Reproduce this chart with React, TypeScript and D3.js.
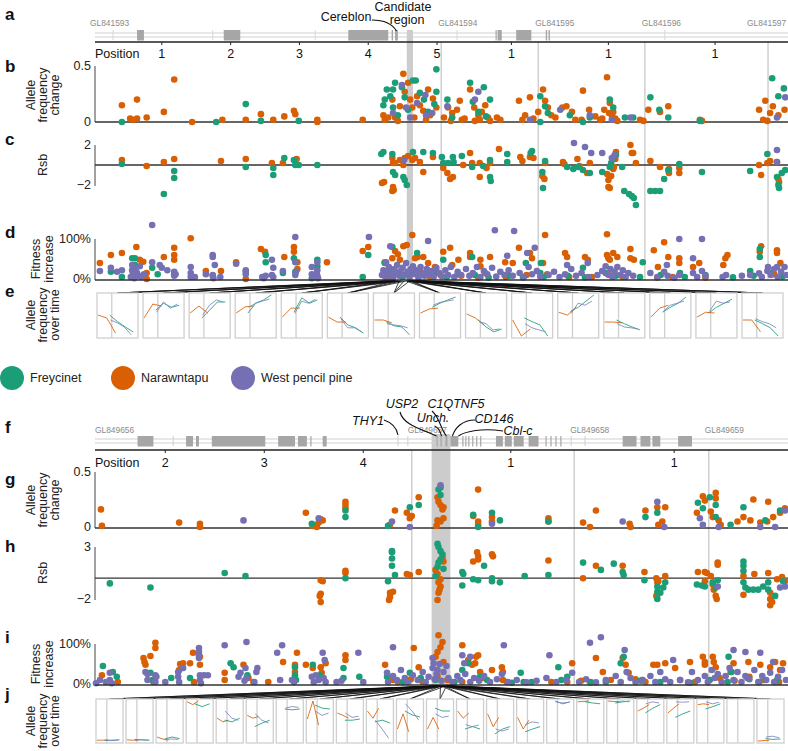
import React from "react";
import * as d3 from "d3";

const GREEN = "#1b9e77";
const ORANGE = "#d95f02";
const PURPLE = "#7570b3";
const FONT = "'Liberation Sans', Arial, Helvetica, sans-serif";

// ---------------- TOP (a-e) ----------------
const topContigNames = ["GL841593", "GL841594", "GL841595", "GL841596", "GL841597"];
const topContigStarts = [0, 5.06, 6.47, 8.02, 9.81];
const topTickPos = [1, 2, 3, 4, 5, 6.08, 7.49, 9.04];
const topTickLabels = ["1", "2", "3", "4", "5", "1", "1", "1"];
const topGenes = [[0.64, 0.74], [1.9, 2.14], [3.71, 4.29], [4.34, 4.36], [4.39, 4.43], [5.85, 5.86], [5.88, 5.94], [6.15, 6.37], [6.58, 6.6], [6.62, 6.64]];
const topFaintMarks = [0.29, 1.74, 3.23, 5.29, 8.31];
const candidateRegion = [4.56, 4.65];

const topAfcFreycinet = [[0.42,0],[1.79,0],[2.22,0.16],[2.44,0.01],[2.99,0.01],[4.22,0.15],[4.24,0.2],[4.27,0.29],[4.32,0.23],[4.36,0.29],[4.39,0.35],[4.36,0.13],[4.43,0.06],[4.49,0.31],[4.53,0.22],[4.58,0.11],[4.65,0.37],[4.69,0.37],[4.75,0.26],[4.81,0.2],[4.87,0.09],[4.99,0.47],[4.99,0.27],[4.96,0.16],[5.15,0.2],[5.22,0.04],[5.48,0.35],[5.52,0.18],[5.6,0.09],[5.68,0.31],[5.77,0.2],[5.71,0.05],[6.5,0.23],[6.57,0.14],[6.61,0.08],[6.5,0],[6.93,0.06],[7.12,0],[7.22,0.04],[7.51,0.2],[7.56,0.13],[7.73,0.04],[7.85,0.04],[8.1,0.22],[8.23,0.11],[8.36,0.04],[8.82,0.01],[9.87,0.39],[9.96,0.23],[10.04,0.3]];
const topAfcNarawntapu = [[0.42,0.15],[0.64,0.2],[0.54,0.03],[0.58,0.02],[0.64,0.03],[0.78,0.04],[1.03,0.09],[1.18,0.38],[1.44,0],[1.88,0.02],[2.22,0.02],[2.44,0.07],[2.62,0.02],[2.78,0.05],[2.92,0.1],[2.94,0.07],[3.26,0.02],[3.26,0],[3.92,0.02],[4.22,0.06],[4.24,0.02],[4.29,0.04],[4.35,0.2],[4.39,0.04],[4.43,0.01],[4.46,0.14],[4.51,0.43],[4.53,0.27],[4.58,0.35],[4.61,0.2],[4.64,0.13],[4.67,0.04],[4.71,0.23],[4.75,0.15],[4.8,0.1],[4.84,0.02],[4.87,0.29],[4.9,0.06],[4.94,0.21],[4.99,0.13],[5.1,0.04],[5.16,0.13],[5.22,0.08],[5.29,0.11],[5.33,0.19],[5.36,0.02],[5.48,0.29],[5.54,0.13],[5.6,0.06],[5.65,0.09],[5.7,0.15],[5.74,0.04],[5.77,0.01],[5.87,0.04],[5.92,0.02],[6.19,0.19],[6.24,0.02],[6.35,0.22],[6.47,0.09],[6.54,0.29],[6.57,0.19],[6.61,0.13],[6.72,0.04],[6.82,0.13],[6.88,0.14],[6.96,0.09],[7.01,0.02],[7.12,0.28],[7.21,0.11],[7.37,0.02],[7.43,0.11],[7.47,0.4],[7.51,0.17],[7.54,0.06],[7.59,0.03],[8.07,0.11],[8.24,0.09],[8.36,0.14],[8.82,0.02],[9.68,0.11],[9.77,0.19],[9.84,0.08],[9.88,0.14],[9.96,0.06],[5.2,0.01],[5.4,0.03],[5.55,0.01],[5.62,0.02],[6.28,0.06],[6.4,0.03],[6.66,0.06],[7.3,0.05],[7.4,0.03],[7.5,0.08],[7.56,0.09],[7.62,0.01],[7.1,0.02],[7.95,0.02],[8.0,0.01],[8.85,0.01],[9.74,0.02],[9.8,0.01],[10.05,0.11]];
const topAfcWestPencilPine = [[4.36,0.08],[4.49,0.33],[4.55,0.13],[4.61,0.04],[4.71,0.17],[4.83,0.24],[4.93,0.08],[4.84,0.06],[5.15,0.14],[5.55,0.2],[5.6,0.27],[6.35,0.02],[6.79,0.11],[7.22,0.06],[7.54,0.02],[7.81,0.04],[9.94,0.04],[10.06,0.22]];

const topRsbFreycinet = [[0.42,0.1],[1.18,-0.6],[1.18,-1.3],[1.03,-2.9],[2.22,-0.2],[2.62,-0.3],[2.62,-1],[2.78,0.7],[2.92,0.5],[2.94,0],[2.99,0],[3.26,0],[4.19,1.1],[4.22,1.3],[4.35,1.1],[4.36,-0.7],[4.39,-1],[4.51,-1.2],[4.53,-1.5],[4.56,-2],[4.65,1.3],[4.8,1.3],[4.94,1.2],[5.07,0.8],[5.09,0.2],[5.16,0.2],[5.23,0.8],[5.24,0.3],[5.36,0.9],[5.51,-0.2],[5.67,-0.1],[5.77,0.5],[5.77,-1.2],[5.78,-1.6],[6.02,1.1],[6.02,0.3],[6.38,1.4],[6.36,1.2],[6.57,0.4],[6.53,-0.7],[6.54,-2.3],[6.89,-0.2],[6.98,-0.4],[7.05,-0.2],[7.12,-0.5],[7.22,-0.8],[7.4,-0.7],[7.51,-0.2],[7.53,0.2],[7.56,0.7],[7.6,1.0],[7.69,-0.2],[7.72,-2.6],[7.79,-2.9],[7.83,-3.1],[7.86,-3.3],[7.89,-4],[8.1,-2.6],[8.17,-2.6],[8.24,-2.6],[8.3,-1.4],[8.36,-0.5],[8.52,0.1],[8.85,-0.7],[9.55,-0.6],[9.8,1.1],[9.94,-1.2],[9.96,-2],[9.97,-2.3],[10.01,-0.8],[10.06,-0.5]];
const topRsbNarawntapu = [[0.42,0.5],[0.78,-0.1],[1.03,0.3],[1.18,0.6],[1.86,0.4],[2.22,0.6],[2.6,0.2],[2.76,0.2],[2.96,0.6],[4.23,-1.7],[4.2,-1.8],[4.36,-2.2],[4.37,-2.5],[4.36,0.2],[4.35,0.7],[4.39,0.2],[4.46,0.5],[4.51,0],[4.53,0.7],[4.58,0.9],[4.64,0.5],[4.68,0.7],[4.75,0.3],[4.35,-2.6],[4.8,-0.7],[4.94,0.8],[5.09,-0.3],[5.15,-0.8],[5.19,-1.4],[5.23,-1.2],[5.48,1.2],[5.38,0],[5.51,0.2],[5.62,0.2],[5.62,-1.2],[5.72,-0.3],[5.77,0.2],[5.9,1.6],[6.21,0.8],[6.24,0.4],[6.35,0.8],[6.4,0.7],[6.53,-1.1],[6.56,-1.4],[6.57,0.2],[6.83,0.3],[6.85,0.1],[7.04,0.6],[7.07,-0.1],[7.18,-0.8],[7.22,0.2],[7.47,-0.9],[7.49,-1.5],[7.49,-2.2],[7.51,-2.3],[7.53,-1.1],[7.56,-0.4],[7.57,-0.2],[7.59,0.6],[7.6,1.3],[7.81,2],[7.83,1.2],[7.85,1.2],[7.89,0.2],[8.1,0.4],[8.24,-0.2],[8.37,-0.4],[8.37,-0.8],[8.52,-0.3],[8.52,-0.8],[9.68,0],[9.71,-1],[9.8,0.2],[9.84,0.4],[9.94,0.3],[9.96,-1.4],[9.97,-1.7]];
const topRsbWestPencilPine = [[6.99,2.2],[7.15,1.8],[7.24,1.2],[7.4,1.2],[7.54,0.7],[7.58,1.0],[9.94,1.5],[9.94,0.3],[4.52,0.5]];

const topFitFreycinet = [[0.26,0.18],[0.42,0.05],[0.57,0.52],[0.61,0.52],[0.61,0.35],[0.86,0.28],[0.94,0.12],[1.18,0.12],[1.74,0.08],[2.22,0.18],[2.51,0.6],[2.51,0.42],[2.76,0.15],[2.92,0.52],[2.94,0.18],[3.26,0.48],[3.26,0.32],[3.18,0.02],[3.92,0.05],[4.0,0.6],[4.24,0.4],[4.27,0.18],[4.35,0.8],[4.71,0.65],[5.09,0.48],[5.51,0.55],[6.29,0.4],[6.51,0.4],[7.12,0.28],[7.99,0.42],[8.53,0.15],[8.9,0.1],[9.55,0.2],[9.69,0.75],[9.69,0.55],[4.33,0.15],[4.5,0.05],[4.63,0.2],[4.8,0.1],[4.98,0.15],[5.14,0.05],[5.3,0.12],[5.55,0.1],[5.75,0.03],[6.05,0.08],[6.25,0.04],[6.5,0.15],[6.55,0.05],[6.9,0.08],[7.15,0.04],[7.45,0.15],[7.6,0.08],[7.95,0.05],[8.25,0.1],[8.6,0.05],[9.3,0.04],[9.6,0.08],[9.85,0.15],[10.02,0.06]];
const topFitNarawntapu = [[0.1,0.4],[0.26,0.6],[0.42,0.65],[0.63,0.8],[0.68,0.48],[0.73,0.43],[0.78,0.15],[0.57,0.22],[0.78,0],[1.03,0.55],[1.18,0.78],[1.18,0.6],[1.18,0.48],[1.42,1.02],[1.64,0.2],[1.86,0.2],[2.08,0.42],[2.22,0],[2.44,0.75],[2.5,0.68],[2.78,0.55],[2.92,0.8],[2.92,0.68],[2.97,0.42],[2.97,0.25],[3.4,0.42],[3.92,0.7],[4.0,0.8],[4.24,0.42],[4.35,0.52],[4.39,0.7],[4.43,0.62],[4.64,1.1],[4.51,0.82],[4.56,0.85],[4.46,0.48],[4.68,0.52],[4.72,0.55],[4.8,0.55],[4.87,0.4],[4.97,0.3],[5.09,0.68],[5.19,0.78],[5.22,0.35],[5.31,0.48],[5.48,0.65],[5.48,0.55],[5.63,0.48],[5.63,0.32],[5.77,0.55],[5.99,0.42],[6.1,0.4],[6.19,0.78],[6.35,0.65],[6.38,0.52],[6.57,1.1],[6.54,0.4],[6.86,0.65],[6.89,0.55],[7.15,0.55],[7.19,0.48],[7.47,1.12],[7.47,0.6],[7.49,0.52],[7.51,0.48],[7.56,0.65],[7.62,0.55],[7.81,0.75],[7.81,0.52],[7.86,0.48],[8.15,0.72],[8.21,0.3],[8.3,0.92],[8.36,0.55],[8.52,0.52],[8.52,0.4],[8.72,0.3],[8.81,0.4],[9.16,0.35],[9.19,0.52],[9.22,0.6],[9.71,0.82],[9.69,0.68],[9.94,0.72],[9.94,0.65],[9.99,0.4],[4.3,0.05],[4.45,0.12],[4.6,0.08],[4.75,0.18],[4.9,0.05],[5.05,0.1],[5.35,0.08],[5.6,0.03],[5.7,0.15],[6.0,0.05],[6.3,0.1],[6.6,0.12],[6.92,0.05],[7.25,0.05],[7.5,0.1],[7.7,0.05],[8.2,0.03],[8.42,0.05],[8.9,0.03],[9.9,0.12]];
const topFitWestPencilPine = [[0.1,0.2],[0.26,0.28],[0.35,0.18],[0.42,0.22],[0.57,0.22],[0.57,0.35],[0.59,0.08],[0.64,0.15],[0.68,0.32],[0.74,0.12],[0.86,1.35],[0.86,0.42],[0.97,0.35],[1.0,0.28],[1.08,0.22],[1.18,0.18],[1.18,0.08],[1.42,0.3],[1.42,0.15],[1.48,0.05],[1.64,0.12],[1.74,0.6],[1.74,0.55],[1.77,0.35],[1.85,0.05],[2.08,0.38],[2.22,0.12],[2.22,0.22],[2.46,0.05],[2.51,0.08],[2.6,0.48],[2.62,0.28],[2.6,0.1],[2.76,0.2],[2.94,1.05],[2.94,0.42],[2.94,0.1],[3.18,0.3],[3.18,0.12],[3.26,0.42],[3.26,0.22],[3.26,0.08],[4.01,1.05],[4.22,0.22],[4.26,0.42],[4.32,0.82],[4.32,0.22],[0.55,0.05],[0.58,0.12],[0.6,0.02],[0.62,0.25],[0.66,0.08],[0.7,0.05],[1.2,0.12],[1.42,0.05],[1.74,0.1],[1.75,0.02],[2.48,0.02],[2.62,0.05],[2.95,0.18],[3.2,0.05],[3.25,0.15],[3.27,0.02],[4.87,0.95],[5.84,1.22],[6.12,1.2],[6.42,0.78],[6.02,0.58],[6.31,0.65],[6.89,0.35],[7.19,0.4],[8.52,1.0],[8.85,1.0],[8.72,0.52],[9.43,0.08],[9.94,0.3],[9.81,0.3],[8.1,0.15],[8.34,0.35],[4.2,0.1],[4.25,0.05],[4.28,0.2],[4.3,0.3],[4.33,0.12],[4.36,0.03],[4.38,0.25],[4.4,0.15],[4.42,0.35],[4.45,0.08],[4.47,0.2],[4.5,0.28],[4.52,0.1],[4.55,0.4],[4.57,0.18],[4.6,0.05],[4.62,0.25],[4.65,0.32],[4.68,0.12],[4.7,0.22],[4.73,0.04],[4.76,0.3],[4.79,0.15],[4.82,0.08],[4.85,0.25],[4.88,0.12],[4.92,0.2],[4.95,0.05],[4.99,0.28],[5.03,0.15],[5.07,0.07],[5.12,0.22],[5.16,0.1],[5.2,0.3],[5.25,0.05],[5.3,0.18],[5.35,0.1],[5.42,0.25],[5.47,0.08],[5.52,0.15],[5.58,0.3],[5.63,0.05],[5.68,0.2],[5.73,0.12],[5.8,0.28],[5.86,0.06],[5.92,0.18],[5.98,0.1],[6.04,0.22],[6.1,0.08],[6.2,0.15],[6.26,0.05],[6.33,0.3],[6.38,0.12],[6.45,0.2],[6.5,0.06],[6.62,0.1],[6.7,0.18],[6.78,0.05],[6.86,0.12],[6.95,0.25],[7.02,0.08],[7.1,0.15],[7.2,0.05],[7.33,0.1],[7.4,0.2],[7.45,0.32],[7.48,0.12],[7.52,0.25],[7.55,0.05],[7.58,0.18],[7.62,0.3],[7.66,0.1],[7.7,0.22],[7.74,0.05],[7.78,0.15],[7.85,0.08],[8.2,0.05],[8.3,0.18],[8.35,0.08],[8.45,0.03],[8.52,0.1],[8.72,0.15],[8.78,0.05],[8.85,0.2],[8.9,0.08],[9.15,0.05],[9.2,0.1],[9.55,0.1],[9.68,0.14],[9.72,0.05],[9.8,0.2],[9.85,0.1],[9.9,0.25],[9.95,0.05],[10.0,0.18],[10.05,0.3],[10.08,0.1]];

const topFanSnps = [[4.22,4.3,4.38],[4.25,4.33,4.4],[4.28,4.36,4.44],[4.3,4.4,4.47],[4.34,4.43,4.5],[4.38,4.47,4.55],[4.45,4.52,4.6],[4.55,4.6,4.63],[4.57,4.62,4.66],[4.56,4.63,4.7],[4.58,4.64,4.72],[4.6,4.66,4.74],[4.6,4.68,4.76],[4.62,4.7,4.78],[4.63,4.72,4.8]];
const topMiniNarawntapu = [[0.51,0.44,0.07],[0.44,0.78,0.73],[0.56,0.73,0.56],[0.56,0.71,0.73],[0.46,0.68,0.68],[0.46,0.34,0.34],[0.39,0.39,0.32],[0.56,0.66,0.68],[0.54,0.44,0.27],[0.39,0.0,0.17],[0.58,0.51,0.71],[0.34,0.34,0.32],[0.46,0.68,0.75],[0.46,0.58,0.56],[0.39,0.39,0.1]];
const topMiniFreycinet = [[0.51,0.35,0.22,0.1],[0.63,0.8,0.7,0.75],[0.44,0.63,0.83,0.83],[0.56,0.8,0.88,1.0],[0.58,0.93,0.8,0.88],[0.46,0.27,0.2,0.07],[0.35,0.25,0.22,0.03],[0.7,0.8,0.88,0.95],[0.39,0.22,0.1,0.17],[0.44,0.35,0.27,0.0],[0.6,0.7,0.85,1.0],[0.39,0.3,0.22,0.15],[0.58,0.7,0.8,0.95],[0.56,0.7,0.8,0.9],[0.39,0.3,0.2,0.0]];
const topMiniWestPencilPine = [[0.39,0.32,0.22,0.03],[0.58,0.83,0.68,0.78],[0.51,0.75,0.88,0.83],[0.7,0.8,0.85,0.9],[0.55,0.85,0.8,0.9],[0.42,0.2,0.2,0.1],[0.3,0.27,0.25,0.2],[0.75,0.82,0.85,0.88],[0.35,0.3,0.15,0.17],[0.3,0.2,0.15,0.1],[0.55,0.8,0.75,0.85],[0.3,0.22,0.2,0.17],[0.6,0.75,0.8,0.85],[0.6,0.85,0.8,0.83],[0.42,0.35,0.3,0.2]];

// ---------------- BOTTOM (f-j) ----------------
const botContigNames = ["GL849656", "GL849657", "GL849658", "GL849659"];
const botContigStarts = [1.29, 4.49, 6.13, 7.49];
const botTickPos = [2, 3, 4, 5.49, 7.14];
const botTickLabels = ["2", "3", "4", "1", "1"];
const botGenes = [[1.72,1.88],[2.21,2.28],[2.31,2.34],[2.47,3.01],[3.14,3.31],[3.34,3.43],[3.465,3.475],[3.59,3.63],[4.74,4.75],[4.78,4.79],[4.83,4.85],[4.88,4.96],[5.0,5.01],[5.03,5.04],[5.06,5.07],[5.1,5.11],[5.14,5.15],[5.18,5.19],[5.34,5.41],[5.43,5.5],[5.52,5.62],[5.67,5.77],[5.84,5.85],[5.89,5.9],[5.94,5.95],[5.99,6.0],[6.62,6.76],[6.8,6.9],[6.92,7.0],[7.18,7.32]];
const botFaintMarks = [2.08, 4.35, 4.45, 6.1, 6.24];
const botRegion = [4.69, 4.88];

const botAfcFreycinet = [[3.48,0.03],[3.82,0.15],[3.82,0.09],[4.25,0.01],[4.47,0.18],[4.56,0.2],[4.76,0.34],[4.78,0.36],[4.78,0.29],[5.11,0.11],[5.16,0],[5.3,0.13],[5.38,0.06],[5.87,0.05],[6.85,0.09],[6.97,0.13],[7.38,0.22],[7.43,0.17],[7.5,0.27],[7.56,0.2],[7.56,0.09],[7.84,0.18],[8.21,0.15],[8.06,0.06],[7.71,0.02]];
const botAfcNarawntapu = [[1.35,0.16],[1.36,0.01],[2.14,0.04],[2.35,0.03],[2.35,0],[3.42,0.13],[3.49,0.01],[3.53,0.02],[3.55,0.04],[3.57,0.07],[3.59,0.06],[3.53,0],[3.82,0.23],[3.82,0.2],[3.82,0.17],[4.32,0.15],[4.27,0.02],[4.44,0.13],[4.47,0.08],[4.49,0.1],[4.56,0.27],[4.75,0.27],[4.76,0.23],[4.78,0.2],[4.81,0.18],[4.8,0.16],[4.75,0.06],[4.78,0.05],[4.81,0.08],[4.74,0.01],[5.16,0.34],[5.11,0.1],[5.16,0.05],[5.16,0.02],[5.3,0.09],[5.3,0.05],[5.87,0.08],[5.87,0.05],[6.35,0.15],[6.22,0.04],[6.29,0],[6.69,0.03],[6.7,0],[6.85,0.15],[6.97,0.18],[7.05,0.18],[6.98,0.02],[7.02,0.05],[7.37,0.13],[7.43,0.28],[7.45,0.24],[7.56,0.31],[7.56,0.26],[7.51,0.14],[7.53,0.09],[7.59,0.06],[7.61,0.02],[7.78,0.05],[7.94,0.25],[7.84,0.09],[8.09,0.23],[8.08,0.05],[8.14,0.09],[8.21,0.13],[8.26,0.17],[7.91,0.06],[8.01,0.04]];
const botAfcWestPencilPine = [[2.79,0.06],[3.55,0.08],[4.29,0.05],[4.47,0],[4.78,0.38],[5.3,0.03],[6.62,0.05],[6.97,0.23],[7.04,0],[7.4,0.08],[7.43,0.02],[7.59,0],[8.01,0],[8.26,0.15],[8.16,0]];

const botRsbFreycinet = [[1.44,-0.5],[1.85,-0.9],[2.6,0.5],[2.81,0.2],[3.82,0],[4.25,-0.3],[4.29,2.6],[4.29,2.5],[4.29,1.9],[4.29,1.2],[4.32,0.3],[4.75,3.3],[4.76,3.0],[4.78,2.6],[4.8,2.3],[4.78,1.8],[4.76,1.5],[4.75,1.1],[4.81,0.9],[4.73,0.2],[5.0,0.6],[5.01,0.4],[5.0,-0.7],[5.11,-0.1],[5.16,-0.2],[5.22,1.2],[5.3,0],[5.3,-0.3],[5.38,-0.4],[5.63,0.2],[5.87,0.3],[6.22,1.5],[6.4,0.8],[6.53,1.4],[6.62,0.6],[6.63,0.3],[6.84,-0.2],[6.97,-0.8],[6.97,-1.3],[6.97,-2],[7.0,-1.4],[7.03,-0.9],[7.05,-0.4],[7.37,-0.6],[7.42,-0.7],[7.45,-0.8],[7.53,-0.4],[7.56,-0.9],[7.58,-0.2],[7.84,1.6],[7.84,1.2],[7.84,0.7],[7.84,-0.4],[7.86,-0.9],[7.89,-1.1],[7.94,-1.1],[7.99,-1.1],[8.04,-0.8],[8.09,-0.4],[8.09,-1.1],[8.16,-1.7],[8.24,-0.3]];
const botRsbNarawntapu = [[3.57,-0.2],[3.59,-0.3],[3.57,-1.5],[3.56,-1.7],[3.57,-2.3],[3.82,0.7],[3.82,0.5],[4.27,-1.4],[4.27,-1.8],[4.26,-2.1],[4.3,-1.3],[4.44,0.4],[4.47,0.3],[4.56,0.6],[4.73,0.8],[4.75,0.4],[4.78,-0.1],[4.76,-0.4],[4.78,-0.8],[4.77,-1.1],[4.76,-1.4],[4.75,-2.1],[4.8,2.0],[4.81,1.6],[5.11,1.6],[5.15,2.5],[5.16,2.1],[5.16,1.8],[5.3,2.3],[5.31,2.1],[5.87,1.7],[6.22,0],[6.35,1.2],[6.62,1.2],[6.84,0.6],[6.96,0],[6.97,-0.4],[6.98,-0.3],[6.97,-1.6],[6.96,-1.7],[7.05,0.2],[7.38,0.6],[7.45,0.6],[7.47,0.5],[7.51,0.2],[7.45,-0.3],[7.53,-0.6],[7.54,-1.1],[7.56,-1.7],[7.57,-2.0],[7.58,1.5],[7.58,1.3],[7.84,0.2],[7.84,-1.6],[7.95,0.4],[8.09,0.5],[8.11,-1.4],[8.11,-2.0],[8.11,-2.6],[8.13,-2.3],[8.18,-0.1],[8.23,0.1],[8.26,-0.3]];
const botRsbWestPencilPine = [[7.58,-0.8],[8.21,-0.9],[8.26,-0.8]];

const botFitFreycinet = [[1.37,0.45],[1.47,0.3],[1.51,0.18],[1.85,0.28],[1.87,0.1],[2.06,0.15],[2.25,0.15],[2.66,0.52],[2.69,0.42],[2.83,0.22],[3.31,0.42],[3.31,0.22],[3.32,0.1],[3.49,0.48],[3.56,0.22],[3.8,0.4],[3.8,0.15],[3.96,0.18],[4.24,0.18],[4.47,0.28],[5.0,0.35],[5.06,0.52],[5.18,0.18],[5.59,0.28],[5.62,0.05],[5.97,0.42],[6.06,0.18],[6.63,0.68],[6.6,0.52],[6.82,0.1],[7.69,0.68],[7.72,0.3],[4.4,0.05],[4.58,0.15],[4.73,0.1],[4.92,0.05],[5.25,0.1],[5.5,0.03],[5.7,0.05],[6.0,0.1],[6.3,0.04],[6.45,0.05],[6.8,0.08],[7.0,0.05],[7.3,0.03],[7.5,0.1],[7.68,0.05],[7.88,0.15],[8.0,0.05],[8.18,0.1]];
const botFitNarawntapu = [[1.36,0.22],[1.52,0.05],[1.78,0.65],[1.79,0.55],[1.8,0.48],[1.85,0.7],[1.9,1.03],[1.9,0.9],[1.88,0.05],[2.14,0.35],[2.15,0.5],[2.18,0.52],[2.25,0.52],[2.28,0.78],[2.35,0.68],[2.35,0.48],[2.29,0.05],[2.6,0.28],[2.6,0.1],[2.79,0.48],[2.84,0.15],[2.89,0.05],[3.04,0.05],[3.19,0.55],[3.33,0.78],[3.31,0.48],[3.31,0.3],[3.42,0.48],[3.49,0.4],[3.57,0.42],[3.62,0.52],[3.58,0.28],[3.82,0.72],[3.82,0.6],[4.22,0.48],[4.3,0.1],[4.51,0.9],[4.56,0.42],[4.76,1.22],[4.8,1.05],[4.78,0.92],[4.75,0.8],[4.73,0.68],[4.81,0.55],[5.0,0.97],[5.06,0.6],[5.1,0.48],[5.16,0.72],[5.14,0.68],[5.13,0.52],[5.18,0.3],[5.3,0.35],[5.4,0.42],[5.41,0.3],[5.41,0.1],[6.11,0.52],[6.06,0.05],[6.29,0.05],[6.35,0.65],[6.42,0.3],[6.62,0.65],[6.65,0.48],[6.68,0.28],[6.93,0.48],[6.97,0.48],[7.05,0.52],[7.15,0.4],[7.3,0.55],[7.43,0.68],[7.45,0.55],[7.45,0.48],[7.53,0.68],[7.54,0.55],[7.56,0.42],[7.71,0.3],[7.74,0.52],[7.89,0.55],[8.01,0.48],[8.11,0.42],[8.16,0.55],[8.21,0.35],[8.24,0.52],[4.35,0.05],[4.48,0.12],[4.6,0.05],[4.75,0.2],[4.85,0.1],[5.0,0.05],[5.2,0.15],[5.45,0.05],[5.9,0.05],[6.2,0.08],[6.5,0.1],[6.75,0.12],[6.85,0.05],[7.2,0.1],[7.35,0.05],[7.6,0.15],[7.75,0.08],[7.9,0.18],[8.05,0.1],[8.2,0.05]];
const botFitWestPencilPine = [[1.34,0.1],[1.44,0.28],[1.44,0.1],[1.8,0.3],[1.82,0.25],[1.9,0.22],[1.91,0.18],[2.0,0.05],[2.13,0.3],[2.13,0.18],[2.18,0.4],[2.34,0.9],[2.34,0.8],[2.34,0.72],[2.34,0.65],[2.35,0.22],[2.39,0.22],[2.43,0.22],[2.6,0.97],[2.74,0.18],[2.76,0.28],[2.81,0.4],[2.82,0.15],[2.82,1.05],[2.92,0.3],[2.93,0.4],[3.13,0.78],[3.18,0.97],[3.16,0.1],[3.28,0.1],[3.48,0.18],[3.55,0.1],[3.59,0.78],[3.61,0.6],[3.52,0.22],[3.73,0.05],[3.95,0.78],[4.24,0.28],[1.3,0.02],[1.4,0.05],[1.46,0.02],[1.82,0.1],[1.9,0.05],[2.14,0.05],[2.35,0.1],[2.36,0.02],[2.8,0.08],[2.9,0.05],[3.3,0.05],[3.5,0.05],[3.6,0.15],[3.62,0.05],[3.78,0.08],[4.0,0.05],[4.3,0.92],[4.7,0.65],[4.71,0.52],[4.75,0.35],[5.0,0.72],[5.02,0.52],[5.08,0.68],[5.42,0.97],[5.88,0.72],[6.11,0.28],[6.29,1.03],[6.4,1.17],[6.64,0.85],[7.13,0.6],[7.32,0.3],[7.74,0.85],[7.86,0.8],[8.01,0.78],[8.14,0.55],[4.25,0.05],[4.3,0.2],[4.34,0.1],[4.38,0.35],[4.42,0.15],[4.45,0.05],[4.5,0.22],[4.55,0.1],[4.6,0.3],[4.63,0.05],[4.66,0.18],[4.7,0.4],[4.72,0.12],[4.74,0.25],[4.77,0.5],[4.79,0.08],[4.81,0.3],[4.84,0.45],[4.86,0.15],[4.9,0.05],[4.95,0.2],[4.98,0.1],[5.03,0.25],[5.08,0.05],[5.12,0.15],[5.17,0.08],[5.22,0.2],[5.28,0.05],[5.35,0.12],[5.4,0.25],[5.46,0.05],[5.55,0.1],[5.65,0.04],[5.75,0.08],[5.85,0.15],[5.95,0.05],[6.05,0.1],[6.18,0.05],[6.25,0.12],[6.35,0.04],[6.45,0.1],[6.55,0.2],[6.6,0.05],[6.66,0.3],[6.7,0.15],[6.75,0.05],[6.82,0.1],[6.9,0.2],[6.95,0.05],[7.0,0.3],[7.05,0.12],[7.1,0.05],[7.2,0.1],[7.28,0.04],[7.38,0.1],[7.45,0.2],[7.48,0.05],[7.52,0.35],[7.55,0.15],[7.58,0.25],[7.62,0.05],[7.66,0.2],[7.7,0.4],[7.74,0.1],[7.78,0.3],[7.82,0.05],[7.86,0.2],[7.9,0.12],[7.95,0.35],[7.99,0.05],[8.03,0.2],[8.07,0.1],[8.11,0.28],[8.15,0.05],[8.19,0.18],[8.23,0.35],[8.27,0.1]];

const botFanSnps = [[4.7,4.75],[4.71,4.77],[4.72,4.76],[4.73,4.78],[4.74,4.8],[4.73,4.79],[4.75,4.81],[4.76,4.8],[4.76,4.82],[4.77,4.81],[4.78,4.83],[4.78,4.84],[4.79,4.82],[4.8,4.84],[4.79,4.85],[4.8,4.86],[4.81,4.85],[4.82,4.86],[4.81,4.87],[4.83,4.86],[4.82,4.88],[4.84,4.87],[4.85,4.88]];
const botMiniNarawntapu = [[0.02,0.02,0.02],[0.03,0.02,0.02],[0.1,0.05,0.02],[0.98,0.91,1.0],[0.57,0.48,0.52],[0.64,0.57,0.61],[],[0.55,1.0,0.4],[0.7,0.64,0.57],[0.75,0.57,0.82],[0.3,0.68,0.23],[0.3,0.59,0.3],[0.75,0.57,0.7],[0.68,0.36,0.59],[0.59,0.3,0.52],[],[0.98,1.0],[1.0,0.98],[0.75,0.82,0.91],[0.7,0.82,0.93],[0.91,0.93,0.91],[],[0.0,0.02]];
const botMiniFreycinet = [[0.02,0.02,0.03],[0.04,0.03,0.02],[0.05,0.1,0.06],[0.93,0.86,0.93],[0.52,0.48,0.57],[0.36,0.45,0.52],[0.8,0.78,0.8],[0.9,0.82,0.8],[0.52,0.52,0.55],[0.48,0.52,0.45],[0.75,0.65,0.6],[0.82,0.75,0.75],[0.3,0.36,0.3],[0.18,0.3,0.36],[0.23,0.3,0.36],[1.0,0.93,0.98],[0.98,0.95,0.93],[0.95,0.98,1.0],[0.7,0.82,0.91],[0.59,0.68,0.75],[0.8,0.86,0.93],[],[0.06,0.04,0.05]];
const botMiniWestPencilPine = [[0.02,0.01,0.02],[0.02,0.03,0.02],[0.04,0.05,0.04],[],[0.75,0.57,0.52],[0.68,0.52,0.45],[0.82,0.86,0.84],[0.75,0.64,0.7],[0.7,0.59,0.62],[0.52,0.3,0.07],[0.93,0.75,0.52],[0.68,0.59,0.62],[0.41,0.36,0.4],[0.3,0.25,0.3],[0.41,0.48,0.45],[0.98,0.95,0.97],[],[0.98,1.0,0.98],[0.93,0.98,0.95],[0.98,0.97,0.98],[0.98,0.93,0.97],[],[0.1,0.12,0.08]];

const legendNames = ["Freycinet", "Narawntapu", "West pencil pine"];
const legendColors = [GREEN, ORANGE, PURPLE];

type Pt = number[];

function Dots({ data, x, y, color }: { data: Pt[]; x: any; y: any; color: string }) {
  return (
    <g fill={color}>
      {data.map((d, i) => (
        <circle key={i} cx={x(d[0])} cy={y(d[1])} r={3.3} />
      ))}
    </g>
  );
}

function VLabel({ lines, x, cy, gap = 12 }: { lines: string[]; x: number; cy: number; gap?: number }) {
  return (
    <g>
      {lines.map((l, i) => (
        <text key={i} transform={`translate(${x + i * gap},${cy}) rotate(-90)`} textAnchor="middle" dominantBaseline="central" fontSize={12.5} fill="#222">
          {l}
        </text>
      ))}
    </g>
  );
}

function MiniBoxes({ n, x0, x1, y0, y1, pad, narawntapu, freycinet, west, snps, xScale, srcY, divFrac }: any) {
  const band = d3.scaleBand<number>().domain(d3.range(n)).range([x0, x1]).paddingInner(pad);
  const w = band.bandwidth();
  const yv = d3.scaleLinear().domain([0, 1]).range([y1 - 2, y0 + 2]);
  const boxes = d3.range(n).map((k) => {
    const bx = band(k) as number;
    const tx = d3.scaleLinear().domain([0, 1]).range([bx + 1, bx + w - 1]);
    const mk = (vals: number[], t0: number, t1: number) => {
      if (!vals.length) return null;
      const ts = vals.map((_, i) => (vals.length === 1 ? t0 : t0 + (i * (t1 - t0)) / (vals.length - 1)));
      return d3.line<number>().x((_, i) => tx(ts[i])).y((v) => yv(v))(vals);
    };
    return { bx, k, po: mk(narawntapu[k], 0.0, 0.45), pg: mk(freycinet[k], 0.3, 0.9), pp: mk(west[k], 0.32, 0.85) };
  });
  return (
    <g>
      {boxes.map((b) =>
        (snps[b.k] as number[]).map((s, j) => (
          <line key={`f${b.k}-${j}`} x1={xScale(s)} y1={srcY} x2={b.bx + w / 2} y2={y0} stroke="#111" strokeWidth={0.8} />
        ))
      )}
      {boxes.map((b) => (
        <g key={b.k}>
          <rect x={b.bx} y={y0} width={w} height={y1 - y0} fill="#fff" stroke="#cfcfcf" strokeWidth={1.3} />
          <line x1={b.bx + w * divFrac} x2={b.bx + w * divFrac} y1={y0} y2={y1} stroke="#cfcfcf" strokeWidth={1.3} />
          {b.po && <path d={b.po} fill="none" stroke={ORANGE} strokeWidth={1} opacity={0.85} />}
          {b.pg && <path d={b.pg} fill="none" stroke={GREEN} strokeWidth={1} opacity={0.85} />}
          {b.pp && <path d={b.pp} fill="none" stroke="#7a86c0" strokeWidth={1} opacity={0.85} />}
        </g>
      ))}
    </g>
  );
}

export default function App() {
  const xT = d3.scaleLinear().domain([0, 10.1]).range([93, 788]);
  const xB = d3.scaleLinear().domain([1.29, 8.29]).range([95, 788]);
  const yB = d3.scaleLinear().domain([0, 0.5]).range([122, 66]);
  const yC = d3.scaleLinear().domain([-2, 2]).range([185, 145]);
  const yD = d3.scaleLinear().domain([0, 1]).range([279, 239]);
  const yG = d3.scaleLinear().domain([0, 0.5]).range([527, 472]);
  const yH = d3.scaleLinear().domain([-2, 3]).range([599, 547]);
  const yI = d3.scaleLinear().domain([0, 1]).range([684, 644]);

  const AX0 = 95;
  const AX1 = 788;
  const tickLabel = (t: string, y: number, key: string) => (
    <text key={key} x={91} y={y} textAnchor="end" dominantBaseline="central" fontSize={12.5} fill="#222">
      {t}
    </text>
  );
  const letter = (t: string, y: number) => (
    <text x={5} y={y} fontSize={17} fontWeight="bold" fill="#111">
      {t}
    </text>
  );

  return (
    <svg width={788} height={751} style={{ position: "absolute", left: 0, top: 0, fontFamily: FONT }}>
      <rect width={788} height={751} fill="#fff" />

      {/* ================= TOP ================= */}
      {letter("a", 20)}
      <rect x={xT(candidateRegion[0])} y={30} width={xT(candidateRegion[1]) - xT(candidateRegion[0])} height={252} fill="#cccccc" />
      {topContigStarts.slice(1).map((s, i) => (
        <line key={i} x1={xT(s)} x2={xT(s)} y1={42} y2={281} stroke="#c4c4c4" strokeWidth={1.2} />
      ))}
      <line x1={AX0} x2={AX1} y1={33} y2={33} stroke="#d0d0d0" />
      <line x1={AX0} x2={AX1} y1={37} y2={37} stroke="#d0d0d0" />
      {topFaintMarks.map((m, i) => (
        <line key={i} x1={xT(m)} x2={xT(m)} y1={30} y2={40} stroke="#d8d8d8" />
      ))}
      {topGenes.map((g, i) => (
        <rect key={i} x={xT(g[0])} y={30} width={Math.max(1.2, xT(g[1]) - xT(g[0]))} height={10.5} fill="#a6a6a6" />
      ))}
      {topContigNames.map((n, i) => (
        <text key={n} x={Math.min(xT(topContigStarts[i]) - 3, 747)} y={26} fontSize={8.4} fill="#8a8a8a">
          {n}
        </text>
      ))}
      <text x={346} y={21} textAnchor="middle" fontSize={12.5} fill="#111">Cereblon</text>
      <text x={403} y={11} textAnchor="middle" fontSize={12.5} fill="#111">Candidate</text>
      <text x={407} y={24} textAnchor="middle" fontSize={12.5} fill="#111">region</text>
      <path d={`M372,20 Q390,20 ${xT(4.41)},31`} fill="none" stroke="#111" strokeWidth={1.1} />
      <line x1={AX0} x2={AX1} y1={42} y2={42} stroke="#222" strokeWidth={1.6} />
      {topTickPos.map((t, i) => (
        <line key={i} x1={xT(t)} x2={xT(t)} y1={42} y2={45} stroke="#222" />
      ))}
      <text x={95} y={58} fontSize={12.5} fill="#111">Position</text>
      {topTickPos.map((t, i) => (
        <text key={i} x={xT(t)} y={58} textAnchor="middle" fontSize={12.5} fill="#111">
          {topTickLabels[i]}
        </text>
      ))}

      {/* b */}
      {letter("b", 72)}
      <VLabel lines={["Allele", "frequency", "change"]} x={31} cy={95} />
      <line x1={AX0} x2={AX0} y1={66} y2={122} stroke="#444" />
      <line x1={AX0} x2={AX1} y1={122} y2={122} stroke="#333" strokeWidth={1.3} />
      {tickLabel("0.5", 66, "b1")}
      {tickLabel("0", 122, "b0")}
      <Dots data={topAfcNarawntapu} x={xT} y={yB} color={ORANGE} />
      <Dots data={topAfcFreycinet} x={xT} y={yB} color={GREEN} />
      <Dots data={topAfcWestPencilPine} x={xT} y={yB} color={PURPLE} />

      {/* c */}
      {letter("c", 145)}
      <VLabel lines={["Rsb"]} x={43} cy={165} />
      <line x1={AX0} x2={AX0} y1={145} y2={186} stroke="#444" />
      <line x1={AX0} x2={AX1} y1={yC(0)} y2={yC(0)} stroke="#333" strokeWidth={1.3} />
      {tickLabel("2", 145, "c1")}
      {tickLabel("−2", 185, "c0")}
      <Dots data={topRsbNarawntapu} x={xT} y={yC} color={ORANGE} />
      <Dots data={topRsbFreycinet} x={xT} y={yC} color={GREEN} />
      <Dots data={topRsbWestPencilPine} x={xT} y={yC} color={PURPLE} />

      {/* d */}
      {letter("d", 238)}
      <VLabel lines={["Fitness", "increase"]} x={36} cy={259} gap={13} />
      <line x1={AX0} x2={AX0} y1={239} y2={280} stroke="#444" />
      {tickLabel("100%", 239, "d1")}
      {tickLabel("0%", 279, "d0")}
      <Dots data={topFitNarawntapu} x={xT} y={yD} color={ORANGE} />
      <Dots data={topFitFreycinet} x={xT} y={yD} color={GREEN} />
      <Dots data={topFitWestPencilPine} x={xT} y={yD} color={PURPLE} />
      <line x1={AX0} x2={AX1} y1={280} y2={280} stroke="#333" strokeWidth={1.3} />

      {/* e */}
      {letter("e", 297)}
      <VLabel lines={["Allele", "frequency", "over time"]} x={31} cy={315} />
      <MiniBoxes n={15} x0={97} x1={783} y0={293} y1={338} pad={0.11} narawntapu={topMiniNarawntapu} freycinet={topMiniFreycinet} west={topMiniWestPencilPine} snps={topFanSnps} xScale={xT} srcY={281} divFrac={0.36} />

      {/* legend */}
      {legendNames.map((n, i) => {
        const cx = [12, 123, 243][i];
        return (
          <g key={n}>
            <circle cx={cx} cy={378} r={12} fill={legendColors[i]} />
            <text x={cx + 18} y={378} dominantBaseline="central" fontSize={12.5} fill="#222">
              {n}
            </text>
          </g>
        );
      })}

      {/* ================= BOTTOM ================= */}
      {letter("f", 433)}
      {botContigNames.map((n, i) => (
        <text key={n} x={xB(botContigStarts[i]) - (i === 0 ? 0 : 4)} y={433} fontSize={8.4} fill="#8a8a8a">
          {n}
        </text>
      ))}
      <rect x={xB(botRegion[0])} y={434} width={xB(botRegion[1]) - xB(botRegion[0])} height={252} fill="#cccccc" />
      {botContigStarts.slice(1).map((s, i) => (
        <line key={i} x1={xB(s)} x2={xB(s)} y1={450} y2={686} stroke="#c4c4c4" strokeWidth={1.2} />
      ))}
      <line x1={AX0} x2={AX1} y1={439} y2={439} stroke="#d0d0d0" />
      <line x1={AX0} x2={AX1} y1={443} y2={443} stroke="#d0d0d0" />
      {botFaintMarks.map((m, i) => (
        <line key={i} x1={xB(m)} x2={xB(m)} y1={436} y2={446} stroke="#cfcfcf" />
      ))}
      {botGenes.map((g, i) => (
        <rect key={i} x={xB(g[0])} y={436} width={Math.max(1.2, xB(g[1]) - xB(g[0]))} height={10.5} fill="#a6a6a6" />
      ))}
      <g fontStyle="italic" fontSize={12.5} fill="#111" textAnchor="middle">
        <text x={368} y={425}>THY1</text>
        <text x={402} y={408}>USP2</text>
        <text x={433} y={422}>Unch.</text>
        <text x={456} y={408}>C1QTNF5</text>
        <text x={494} y={423}>CD146</text>
        <text x={518} y={435}>Cbl-c</text>
      </g>
      <g fill="none" stroke="#111" strokeWidth={1.1}>
        <path d={`M384,420 Q396,424 ${xB(4.35)},435`} />
        <path d={`M400,412 C403,424 418,428 ${xB(4.74)},436`} />
        <path d={`M${xB(4.72)},426 Q${xB(4.77)},428 ${xB(4.79)},436`} />
        <path d={`M432,411 C440,418 441,430 ${xB(4.84)},436`} />
        <path d={`M475,420 C462,420 455,428 ${xB(4.9)},436`} />
        <path d={`M503,431 C482,428 466,431 ${xB(4.96)},436`} />
      </g>
      <line x1={AX0} x2={AX1} y1={450} y2={450} stroke="#222" strokeWidth={1.6} />
      {botTickPos.map((t, i) => (
        <line key={i} x1={xB(t)} x2={xB(t)} y1={450} y2={453} stroke="#222" />
      ))}
      <text x={95} y={467} fontSize={12.5} fill="#111">Position</text>
      {botTickPos.map((t, i) => (
        <text key={i} x={xB(t)} y={467} textAnchor="middle" fontSize={12.5} fill="#111">
          {botTickLabels[i]}
        </text>
      ))}

      {/* g */}
      {letter("g", 485)}
      <VLabel lines={["Allele", "frequency", "change"]} x={31} cy={500} />
      <line x1={AX0} x2={AX0} y1={472} y2={528} stroke="#444" />
      <line x1={AX0} x2={AX1} y1={528} y2={528} stroke="#333" strokeWidth={1.3} />
      {tickLabel("0.5", 472, "g1")}
      {tickLabel("0", 527, "g0")}
      <Dots data={botAfcNarawntapu} x={xB} y={yG} color={ORANGE} />
      <Dots data={botAfcFreycinet} x={xB} y={yG} color={GREEN} />
      <Dots data={botAfcWestPencilPine} x={xB} y={yG} color={PURPLE} />

      {/* h */}
      {letter("h", 552)}
      <VLabel lines={["Rsb"]} x={43} cy={573} />
      <line x1={AX0} x2={AX0} y1={547} y2={600} stroke="#444" />
      <line x1={AX0} x2={AX1} y1={yH(0)} y2={yH(0)} stroke="#333" strokeWidth={1.3} />
      {tickLabel("3", 547, "h1")}
      {tickLabel("−2", 599, "h0")}
      <Dots data={botRsbNarawntapu} x={xB} y={yH} color={ORANGE} />
      <Dots data={botRsbFreycinet} x={xB} y={yH} color={GREEN} />
      <Dots data={botRsbWestPencilPine} x={xB} y={yH} color={PURPLE} />

      {/* i */}
      {letter("i", 643)}
      <VLabel lines={["Fitness", "increase"]} x={36} cy={664} gap={13} />
      <line x1={AX0} x2={AX0} y1={644} y2={685} stroke="#444" />
      {tickLabel("100%", 644, "i1")}
      {tickLabel("0%", 684, "i0")}
      <Dots data={botFitNarawntapu} x={xB} y={yI} color={ORANGE} />
      <Dots data={botFitFreycinet} x={xB} y={yI} color={GREEN} />
      <Dots data={botFitWestPencilPine} x={xB} y={yI} color={PURPLE} />
      <line x1={AX0} x2={AX1} y1={685} y2={685} stroke="#333" strokeWidth={1.3} />

      {/* j */}
      {letter("j", 700)}
      <VLabel lines={["Allele", "frequency", "over time"]} x={31} cy={721} />
      <MiniBoxes n={23} x0={96} x1={784} y0={699} y1={743} pad={0.1} narawntapu={botMiniNarawntapu} freycinet={botMiniFreycinet} west={botMiniWestPencilPine} snps={botFanSnps} xScale={xB} srcY={686} divFrac={0.4} />
    </svg>
  );
}
